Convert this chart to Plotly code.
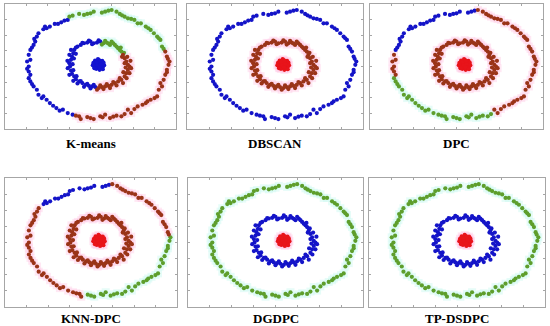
import numpy as np
import plotly.graph_objects as go

# ---- data (same three-ring dataset in every panel) ----
OUTER_X = [4.0, 2.0, 1.0, -1.5, -2.5, -4.5, -6.0, -9.0, -9.5, -10.5, -12.5, -13.5, -15.0, -16.5, -17.0,
           -18.5, -19.0, -19.5, -20.0, -21.0, -21.5, -21.0, -22.0, -21.5, -21.5, -21.0, -21.5, -21.0,
           -20.0, -19.0, -18.5, -17.5, -16.0, -15.0, -14.0, -13.0, -11.0, -9.5, -8.0, -6.0, -5.5, -3.5,
           -1.5, 0.5, 2.0, 3.5, 5.5, 7.0, 9.0, 10.0, 12.0, 13.5, 14.5, 16.0, 18.0, 18.5, 19.0, 20.0, 20.5,
           21.0, 21.5, 21.8, 21.0, 20.5, 19.5, 19.0, 18.0, 17.0, 16.0, 14.5, 13.0, 12.0, 11.0, 9.0, 8.0,
           6.5, 5.5,
           -19.8, -20.5, -22.0, -20.5, -17.0, -12.0, -7.0, -2.5, 1.2, 4.5, 8.0, 11.0, 15.0, 17.2, 19.5,
           21.0, 21.3, 20.0, 18.5, 15.3, 10.0, 7.2, 3.0, -3.5, -8.0, -11.5, -16.0]
OUTER_Y = [16.5, 16.0, 15.7, 16.0, 15.5, 15.0, 15.3, 14.5, 13.5, 13.3, 12.3, 12.3, 11.5, 11.5, 10.7,
           9.5, 8.5, 7.0, 6.0, 4.5, 3.0, 1.5, 1.0, -0.5, -2.0, -3.0, -4.0, -5.0,
           -6.5, -7.5, -9.0, -10.0, -10.5, -11.5, -12.3, -13.0, -13.5, -14.5, -15.0, -15.5, -16.3, -15.7,
           -16.3, -15.5, -15.0, -16.0, -15.3, -15.5, -13.5, -14.5, -12.5, -12.0, -11.5, -10.5, -9.5, -7.5,
           -5.5, -4.5, -3.0, -1.5, 0.0, 1.0, 2.5, 4.0, 5.5, 7.5, 8.5, 9.5, 10.5, 11.5, 12.5, 12.5, 13.5,
           14.0, 14.5, 15.3, 16.0,
           7.8, 5.2, -1.2, -5.8, -9.5, -13.8, -15.3, -16.0, -15.8, -15.6, -14.8, -13.3, -11.0, -10.0, -6.5,
           -2.2, 1.8, 4.8, 8.0, 11.0, 13.8, 14.9, 16.3, 15.3, 14.8, 12.8, 11.0]

MIDDLE_X = [-7.5, -6.5, -5.5, -4.5, -3.5, -2.5, -1.5, -0.5, 0.5, 1.5, 2.5, 3.5, 4.5, 5.5, 6.5, 7.0, 7.5,
            8.0, 8.5, 9.0, 9.5, 9.0, 8.5, 8.0, 7.0, 6.0, 5.0, 4.0, 3.0, 2.0, 1.0, 0.0, -1.0, -2.0, -3.0,
            -4.0, -5.0, -6.0, -7.0, -7.5, -8.2, -8.5, -8.8, -9.0, -8.5, -8.2, -7.8,
            -7.0, -5.0, -3.0, -2.0, 0.0, 1.0, 2.0, 3.0, 4.0, 5.0, 6.0, 6.8, 7.8, 7.2, 8.8, 8.0, 9.8, 10.0,
            8.3, 9.5, 7.6, 8.6, 7.5, 6.5, 5.5, 4.5, 3.5, 2.5, 1.5, 0.5, -0.5, -1.5, -2.5, -3.5, -4.5,
            -5.5, -6.5, -7.8, -6.8, -9.0, -7.8, -9.5, -8.0, -9.6, -7.6, -9.0, -7.0, -8.5]
MIDDLE_Y = [4.5, 5.5, 6.0, 6.5, 6.7, 7.0, 6.5, 6.7, 7.0, 6.5, 6.7, 6.0, 6.5, 5.5, 4.5, 4.0, 3.0,
            2.0, 1.0, 0.0, -0.5, -1.5, -2.5, -3.5, -4.5, -5.0, -5.5, -6.0, -6.3, -6.5, -6.7, -7.0, -6.7,
            -6.5, -6.3, -6.0, -5.5, -5.0, -4.3, -3.5, -2.7, -1.7, -0.5, 0.5, 1.5, 2.5, 3.5,
            5.2, 6.6, 7.3, 6.2, 7.4, 6.1, 7.2, 6.4, 7.0, 6.0, 5.0, 5.2, 3.6, 2.4, 2.4, 0.5, 1.2, -1.0,
            -0.8, -2.5, -2.2, -4.0, -5.5, -4.0, -6.2, -5.2, -7.0, -5.8, -7.3, -6.2, -7.5, -6.0, -7.1,
            -5.7, -6.6, -4.9, -5.6, -4.8, -3.4, -3.0, -1.6, -1.0, 0.2, 1.2, 1.9, 3.0, 3.3, 4.5]

CORE_X = [0.0, 0.5, -0.5, 0.8, -0.8, 0.2, -0.3, 1.2, -1.2, 0.9, -0.9, 0.6, -0.7, 1.4, -1.4, 0.1, 0.3,
          -1.1, 1.1, 1.5, -1.6, 0.0, 0.4, -0.4, 1.0, -1.0, 0.7, -0.6, 0.2, 1.7, -1.8, -0.2, 0.4, -1.3, 1.3]
CORE_Y = [0.0, 0.3, 0.4, -0.5, -0.3, 0.9, -0.9, 0.2, 0.1, 0.9, 0.9, -1.1, -1.2, -0.4, -0.5, 1.4, -1.5,
          1.3, 1.2, 0.7, 0.6, 0.5, -0.4, -0.2, -1.0, -1.0, 0.2, 0.9, -0.7, -0.1, -0.1, 1.7, 1.2, -1.0, -1.3]

METHODS = ["K-means", "DBSCAN", "DPC", "KNN-DPC", "DGDPC", "TP-DSDPC"]

# cluster labels as angular sectors (degrees, counter-clockwise from +x)
OUTER_LABELS = {
    "K-means": [(242, 12, "red"), (12, 125, "green"), (125, 242, "blue")],
    "DBSCAN": [(0, 360, "blue")],
    "DPC": [(78, 171, "blue"), (171, 190, "red"), (190, 300, "green"), (300, 78, "red")],
    "KNN-DPC": [(79, 152, "blue"), (152, 255, "red"), (255, 3, "green"), (3, 79, "red")],
    "DGDPC": [(0, 360, "green")],
    "TP-DSDPC": [(0, 360, "green")],
}
MIDDLE_LABELS = {
    "K-means": [(262, 22, "red"), (22, 85, "green"), (85, 262, "blue")],
    "DBSCAN": [(0, 360, "red")],
    "DPC": [(0, 360, "red")],
    "KNN-DPC": [(0, 360, "red")],
    "DGDPC": [(0, 360, "blue")],
    "TP-DSDPC": [(0, 360, "blue")],
}
CORE_LABELS = {"K-means": "blue", "DBSCAN": "red", "DPC": "red",
               "KNN-DPC": "red", "DGDPC": "red", "TP-DSDPC": "red"}

# ---- styling ----
DOT = {"red": "#9a3418", "green": "#5e9e2c", "blue": "#1414c8"}
CORE_DOT = {"red": "#e8141a", "green": "#5e9e2c", "blue": "#1414d0"}
HALO = {"red": "rgba(255,205,230,0.45)", "green": "rgba(205,250,242,0.5)", "blue": None}

PANELS_PX = [  # left, right, top, bottom in pixels
    (5, 176, 4, 129), (187, 363, 4, 129), (370, 543, 4, 129),
    (5, 177, 178, 307), (188, 363, 178, 307), (369, 545, 178, 307),
]
TITLE_Y_PX = [143, 143, 143, 318, 318, 318]
W, H = 550, 326
XR = [-28.8, 23.8]
YR = [-19.3, 18.3]


def sector_labels(xs, ys, sectors):
    ang = np.degrees(np.arctan2(np.asarray(ys), np.asarray(xs))) % 360
    out = []
    for a in ang:
        lab = sectors[-1][2]
        for s, e, l in sectors:
            if (s <= e and s <= a < e) or (s > e and (a >= s or a < e)):
                lab = l
                break
        out.append(lab)
    return out


fig = go.Figure()
layout = {}
for i, m in enumerate(METHODS):
    k = "" if i == 0 else str(i + 1)
    xa, ya = "x" + k, "y" + k
    pts = []
    for xs, ys, labs in [
        (OUTER_X, OUTER_Y, sector_labels(OUTER_X, OUTER_Y, OUTER_LABELS[m])),
        (MIDDLE_X, MIDDLE_Y, sector_labels(MIDDLE_X, MIDDLE_Y, MIDDLE_LABELS[m])),
    ]:
        for x, y, l in zip(xs, ys, labs):
            pts.append((x, y, l, False))
    for x, y in zip(CORE_X, CORE_Y):
        pts.append((x, y, CORE_LABELS[m], True))

    # halos
    for c in ["red", "green"]:
        sel = [p for p in pts if p[2] == c]
        if sel:
            fig.add_trace(go.Scatter(x=[p[0] for p in sel], y=[p[1] for p in sel], mode="markers",
                                     marker=dict(symbol="square", size=8, color=HALO[c], line=dict(width=0)),
                                     xaxis=xa, yaxis=ya, hoverinfo="skip", showlegend=False))
    for c in ["blue", "green", "red"]:
        for core in [False, True]:
            sel = [p for p in pts if p[2] == c and p[3] == core]
            if not sel:
                continue
            fig.add_trace(go.Scatter(x=[p[0] for p in sel], y=[p[1] for p in sel], mode="markers",
                                     marker=dict(size=4.2, color=(CORE_DOT if core else DOT)[c],
                                                 line=dict(width=0)),
                                     xaxis=xa, yaxis=ya, showlegend=False))

    l, r, t, b = PANELS_PX[i]
    common = dict(showline=True, linecolor="#a6a6a6", linewidth=1, mirror="ticks", ticks="inside",
                  ticklen=2, tickcolor="#a6a6a6", showticklabels=False, showgrid=False, zeroline=False,
                  fixedrange=True)
    layout["xaxis" + k] = dict(domain=[l / W, r / W], range=XR, tick0=XR[0], dtick=(XR[1] - XR[0]) / 8,
                               anchor=ya, **common)
    layout["yaxis" + k] = dict(domain=[1 - b / H, 1 - t / H], range=YR, tick0=YR[0],
                               dtick=(YR[1] - YR[0]) / 8, anchor=xa, **common)
    fig.add_annotation(text="<b>%s</b>" % m, x=(l + r) / 2 / W, y=1 - TITLE_Y_PX[i] / H,
                       xref="paper", yref="paper", xanchor="center", yanchor="middle", showarrow=False,
                       font=dict(family="Liberation Serif", size=13, color="black"))

fig.update_layout(width=W, height=H, margin=dict(l=0, r=0, t=0, b=0), paper_bgcolor="white",
                  plot_bgcolor="white", hovermode=False, **layout)
fig.write_html("out.html", config={"displayModeBar": False, "staticPlot": True},
               post_script="document.body.style.margin='0';")
